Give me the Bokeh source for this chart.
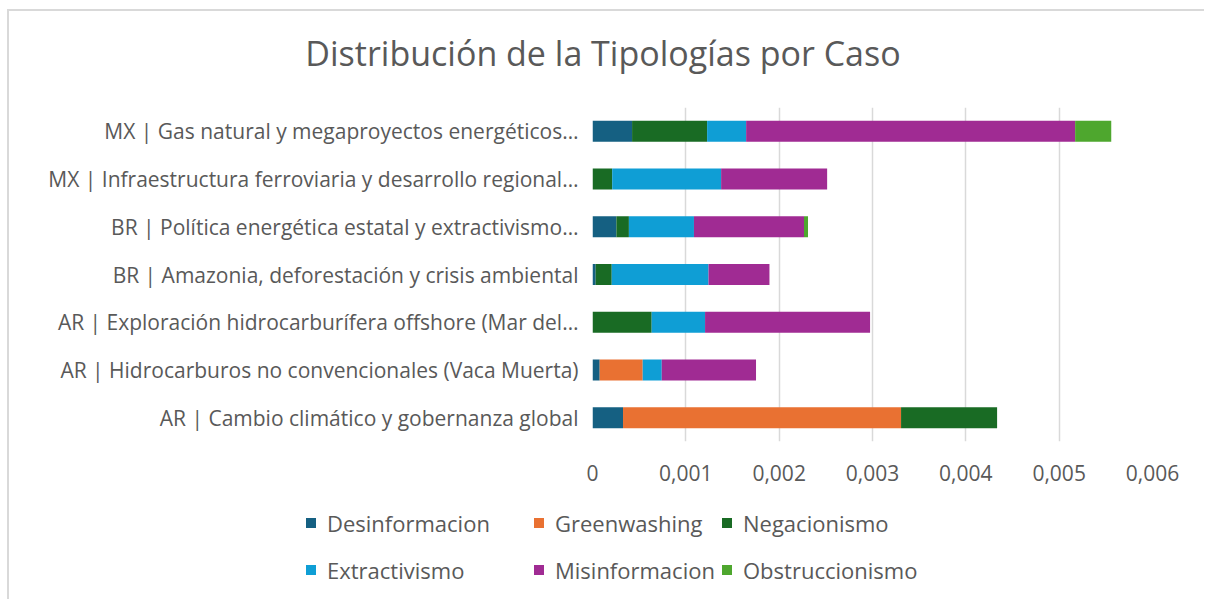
from bokeh.plotting import figure
from bokeh.layouts import column
from bokeh.models import (ColumnDataSource, FactorRange, Range1d, FixedTicker, CustomJSTickFormatter, Div)
from bokeh.embed import file_html
from bokeh.resources import INLINE

# ---- data (bottom to top) ----
cases = [
    "AR | Cambio climático y gobernanza global",
    "AR | Hidrocarburos no convencionales (Vaca Muerta)",
    "AR | Exploración hidrocarburífera offshore (Mar del…",
    "BR | Amazonia, deforestación y crisis ambiental",
    "BR | Política energética estatal y extractivismo…",
    "MX | Infraestructura ferroviaria y desarrollo regional…",
    "MX | Gas natural y megaproyectos energéticos…",
]
desinformacion = [0.000327, 0.000077, 0.0,      0.000034, 0.000256, 0.0,      0.000424]
greenwashing   = [0.002979, 0.000461, 0.0,      0.0,      0.0,      0.0,      0.0]
negacionismo   = [0.001029, 0.0,      0.000634, 0.000172, 0.000134, 0.000211, 0.000804]
extractivismo  = [0.0,      0.000204, 0.000572, 0.001037, 0.000697, 0.001167, 0.000418]
misinformacion = [0.0,      0.001010, 0.001768, 0.000653, 0.001179, 0.001136, 0.003525]
obstruccionismo= [0.0,      0.0,      0.0,      0.0,      0.000043, 0.0,      0.000387]

series = ["Desinformacion", "Greenwashing", "Negacionismo",
          "Extractivismo", "Misinformacion", "Obstruccionismo"]
colors = ["#156082", "#E97132", "#196B24", "#0F9ED5", "#A02B93", "#4EA72E"]
x_ticks = [0, 0.001, 0.002, 0.003, 0.004, 0.005, 0.006]
title_text = "Distribución de la Tipologías por Caso"

source = ColumnDataSource(dict(
    case=cases,
    Desinformacion=desinformacion, Greenwashing=greenwashing, Negacionismo=negacionismo,
    Extractivismo=extractivismo, Misinformacion=misinformacion, Obstruccionismo=obstruccionismo,
))

FONT = "Open Sans"
TXT = "#595959"
BORDER = "2px solid #d9d9d9"

# ---- title strip ----
title_div = Div(
    text=(f'<div style="position:relative;width:1188px;height:79px;">'
          f'<div style="position:absolute;left:0;top:19px;width:1188px;height:46px;line-height:46px;'
          f'text-align:center;font-family:\'{FONT}\';font-size:34px;color:{TXT};white-space:nowrap;">'
          f'{title_text}</div></div>'),
    width=1197, height=79, margin=(9, 0, 0, 7),
    styles={"border-left": BORDER, "border-top": BORDER})

# ---- main chart ----
p = figure(width=1197, height=410, y_range=FactorRange(factors=cases, range_padding=0),
           x_range=Range1d(0, 0.006), output_backend="svg", toolbar_location=None,
           min_border_left=583, min_border_right=54, min_border_top=19, min_border_bottom=57,
           title=None)
p.outline_line_color = None
p.styles = {"margin-left": "7px", "border-left": BORDER}

renderers = p.hbar_stack(series, y="case", height=0.44, color=colors, source=source, line_width=0)

p.xaxis.ticker = FixedTicker(ticks=x_ticks)
p.xaxis.formatter = CustomJSTickFormatter(code="return tick == 0 ? '0' : tick.toFixed(3).replace('.', ',');")
p.xaxis.axis_line_color = None
p.xaxis.major_tick_line_color = None
p.xaxis.minor_tick_line_color = None
p.xaxis.major_label_standoff = 17
p.xaxis.major_label_text_font = FONT
p.xaxis.major_label_text_font_size = "21px"
p.xaxis.major_label_text_color = TXT

p.yaxis.axis_line_color = None
p.yaxis.major_tick_line_color = None
p.yaxis.minor_tick_line_color = None
p.yaxis.major_label_standoff = 8
p.yaxis.major_label_text_font = FONT
p.yaxis.major_label_text_font_size = "21px"
p.yaxis.major_label_text_color = TXT

p.xgrid.grid_line_color = "#d9d9d9"
p.xgrid.grid_line_width = 1.5
p.ygrid.grid_line_color = None

# ---- legend strip (two rows, three columns) ----
col_x = [297, 525, 713]   # key square left edge within the strip
row_y = [25, 72]          # item centre within the strip
items_html = []
for i, (name, c) in enumerate(zip(series, colors)):
    x = col_x[i % 3]
    y = row_y[i // 3]
    items_html.append(
        f'<div style="position:absolute;left:{x}px;top:{y - 5}px;width:10px;height:10px;background:{c};"></div>'
        f'<div style="position:absolute;left:{x + 21}px;top:{y - 15}px;height:30px;line-height:30px;'
        f'font-family:\'{FONT}\';font-size:22px;color:{TXT};white-space:nowrap;">{name}</div>'
    )
legend_div = Div(text='<div style="position:relative;width:1188px;height:101px;">' + "".join(items_html) + "</div>",
                 width=1197, height=101, margin=(0, 0, 0, 7),
                 styles={"border-left": BORDER})

open("out.html", "w").write(file_html(column(title_div, p, legend_div, spacing=0), INLINE))
